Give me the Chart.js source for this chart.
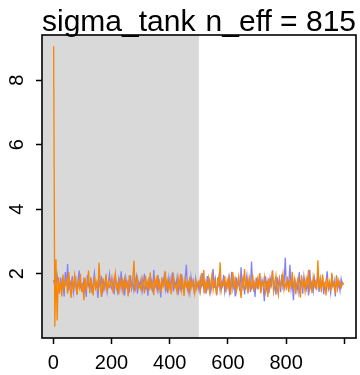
<!DOCTYPE html>
<html>
<head>
<meta charset="utf-8">
<script src="https://cdn.jsdelivr.net/npm/chart.js@4/dist/chart.umd.min.js"></script>
<style>
html,body{margin:0;padding:0;background:#fff;}
#c{display:block;}
</style>
</head>
<body>
<canvas id="c" width="360" height="375"></canvas>
<script>
// ---- data ----
const paramName = 'sigma_tank';
const neffLabel = 'n_eff = 815';
const warmup = 500;
const xTicks = [0, 200, 400, 600, 800, 1000];
const xTickLabels = ['0', '200', '400', '600', '800', ''];
const yTicks = [2, 4, 6, 8];
// iteration index of every plotted sample (every 4th draw)
const iterations = Array.from({length: 250}, (_, i) => 1 + 4 * i);

const chain1 = [
1.80,1.62,1.45,1.95,1.70,1.38,1.88,1.55,1.72,1.30,2.05,1.62,2.30,1.48,1.75,1.60,1.92,1.42,1.68,1.85,1.35,1.77,2.10,1.58,1.66,
1.49,1.83,1.71,1.28,1.96,1.64,1.52,1.88,1.40,1.73,2.02,1.57,1.69,1.25,1.81,1.63,1.94,1.47,1.76,1.55,1.86,1.44,1.70,1.99,1.61,
1.53,1.78,1.36,1.90,1.67,1.45,1.84,1.59,2.08,1.50,1.72,1.33,1.87,1.62,1.74,1.41,1.95,1.56,1.80,1.48,1.69,1.91,1.38,1.75,1.64,
1.82,1.46,1.70,2.00,1.55,1.66,1.32,1.89,1.60,1.77,1.43,2.12,1.58,1.71,1.49,1.85,1.63,1.27,1.79,1.68,1.94,1.51,1.73,1.40,1.86,
1.57,1.69,2.04,1.45,1.76,1.61,1.88,1.35,1.72,1.55,1.98,1.64,1.47,1.83,2.28,1.53,1.70,1.42,1.90,1.62,1.78,1.37,1.84,1.59,1.73,
1.48,1.87,1.65,2.02,1.52,1.74,1.39,1.93,1.60,1.79,1.44,1.70,2.15,1.56,1.82,1.34,1.68,1.91,1.50,1.76,1.63,1.97,1.45,1.72,1.58,
1.85,1.42,1.67,2.06,1.54,1.78,1.30,1.89,1.61,1.74,1.47,2.20,1.59,1.83,1.36,1.71,1.95,1.52,1.80,1.44,2.38,1.62,1.75,1.28,1.88,
1.57,1.69,2.01,1.46,1.81,1.63,1.15,1.92,1.55,1.77,1.40,1.86,1.66,2.10,1.50,1.73,1.35,1.90,1.60,1.84,1.43,1.98,1.58,1.72,2.50,
1.49,1.80,1.64,2.28,1.53,1.76,1.18,1.88,1.62,1.70,1.45,2.05,1.56,1.82,1.38,1.93,1.67,1.51,1.79,1.33,2.12,1.60,1.74,1.47,1.86,
1.59,1.71,2.00,1.44,1.83,1.55,1.90,1.37,1.68,1.77,2.08,1.52,1.65,1.40,1.87,1.61,1.78,1.30,1.95,1.57,1.73,1.48,1.84,1.66,1.70
];
const chain2 = [
9.05,0.36,2.45,0.55,1.90,1.42,1.75,1.30,1.98,1.55,1.68,1.85,1.38,2.05,1.60,1.25,1.82,1.50,1.95,1.66,1.35,1.78,1.58,2.00,1.44,
1.72,1.18,1.88,1.54,1.67,2.10,1.40,1.80,1.62,1.33,1.92,1.57,1.74,1.46,2.34,1.63,1.28,1.85,1.52,1.70,1.98,1.43,1.76,1.59,1.66,
1.87,1.41,1.73,2.02,1.55,1.68,1.36,1.90,1.61,1.79,1.47,1.84,1.58,1.72,1.30,1.95,1.64,1.53,1.81,2.40,1.45,1.70,1.88,1.56,1.62,
1.50,1.86,1.67,1.39,1.93,1.60,1.76,1.48,2.04,1.57,1.71,1.34,1.83,1.63,1.96,1.52,1.74,1.42,1.89,1.59,1.68,2.08,1.46,1.78,1.55,
1.80,1.37,1.70,1.94,1.58,1.65,1.43,1.87,1.62,2.00,1.49,1.75,1.31,1.84,1.60,1.72,1.45,1.91,1.56,1.78,1.64,1.40,1.86,1.53,1.69,
1.76,1.47,1.90,1.61,2.12,1.38,1.73,1.56,1.85,1.44,1.68,1.97,1.51,1.80,1.62,1.34,1.88,1.58,2.36,1.49,1.71,1.65,1.93,1.42,1.77,
1.60,1.87,1.35,1.74,2.05,1.53,1.81,1.46,1.69,1.92,1.57,1.25,1.84,1.63,2.15,1.50,1.76,1.40,1.89,1.66,1.55,1.98,1.44,1.72,1.61,
1.83,1.52,2.02,1.39,1.70,1.64,1.90,1.48,1.78,1.28,1.86,1.59,1.73,2.10,1.45,1.67,1.94,1.56,1.35,1.82,1.62,1.75,2.00,1.50,1.69,
1.58,1.91,1.43,1.74,1.64,2.06,1.52,1.80,1.37,1.70,1.88,1.55,1.26,1.95,1.61,1.77,1.46,1.85,1.66,2.12,1.53,1.72,1.40,1.90,1.63,
1.75,1.49,2.42,1.56,1.82,1.44,1.98,1.60,1.71,1.33,1.88,1.58,1.76,1.47,2.03,1.62,1.69,1.38,1.92,1.54,1.80,1.65,1.57,1.74,1.68
];

// ---- chart ----
const FONT = '"Liberation Sans", Arial, Helvetica, sans-serif';
const toXY = arr => iterations.map((it, i) => ({x: it, y: arr[i]}));

const tracePlugin = {
  id: 'trace',
  beforeDatasetsDraw(chart) {
    const {ctx, chartArea: a, scales: {x}} = chart;
    ctx.save();
    ctx.fillStyle = '#D9D9D9';
    const xw = x.getPixelForValue(warmup);
    ctx.fillRect(a.left, a.top, xw - a.left, a.bottom - a.top);
    ctx.restore();
  },
  afterDraw(chart) {
    const {ctx, chartArea: a, scales: {y}} = chart;
    ctx.save();
    ctx.strokeStyle = '#000';
    ctx.lineWidth = 1.6;
    ctx.strokeRect(a.left, a.top, a.right - a.left, a.bottom - a.top);
    // y tick labels (rotated, R style)
    ctx.fillStyle = '#000';
    ctx.font = '20px ' + FONT;
    ctx.textAlign = 'center';
    ctx.textBaseline = 'middle';
    yTicks.forEach(v => {
      const py = y.getPixelForValue(v);
      ctx.save();
      ctx.translate(17, py);
      ctx.rotate(-Math.PI / 2);
      ctx.fillText(String(v), 0, 0);
      ctx.restore();
    });
    // titles
    ctx.font = '30px ' + FONT;
    ctx.textBaseline = 'alphabetic';
    ctx.textAlign = 'left';
    ctx.fillText(paramName, a.left, 31);
    ctx.textAlign = 'right';
    ctx.fillText(neffLabel, a.right, 31);
    ctx.restore();
  }
};

new Chart(document.getElementById('c'), {
  type: 'line',
  data: {
    datasets: [
      {label: 'chain 1', data: toXY(chain1), borderColor: '#8080FF', borderWidth: 1.3, pointRadius: 0, tension: 0, order: 2},
      {label: 'chain 2', data: toXY(chain2), borderColor: '#FA8500', borderWidth: 1.3, pointRadius: 0, tension: 0, order: 1}
    ]
  },
  options: {
    responsive: false,
    animation: false,
    events: [],
    layout: {padding: {top: 35, right: 4, left: 0, bottom: 0}},
    plugins: {legend: {display: false}, tooltip: {enabled: false}, title: {display: false}},
    scales: {
      x: {
        type: 'linear', min: -39, max: 1040,
        afterBuildTicks: s => { s.ticks = xTicks.map(v => ({value: v})); },
        afterFit: s => { s.height = 37; },
        ticks: {callback: (v, i) => xTickLabels[i], color: '#000', font: {size: 20, family: FONT}, padding: 7, maxRotation: 0, autoSkip: false},
        grid: {drawOnChartArea: false, drawTicks: true, tickLength: 6, tickColor: '#000', tickWidth: 1.5},
        border: {display: false}
      },
      y: {
        type: 'linear', min: 0.01, max: 9.4,
        afterBuildTicks: s => { s.ticks = yTicks.map(v => ({value: v})); },
        afterFit: s => { s.width = 42; },
        ticks: {callback: () => '', autoSkip: false},
        grid: {drawOnChartArea: false, drawTicks: true, tickLength: 6, tickColor: '#000', tickWidth: 1.5},
        border: {display: false}
      }
    }
  },
  plugins: [tracePlugin]
});
</script>
</body>
</html>
